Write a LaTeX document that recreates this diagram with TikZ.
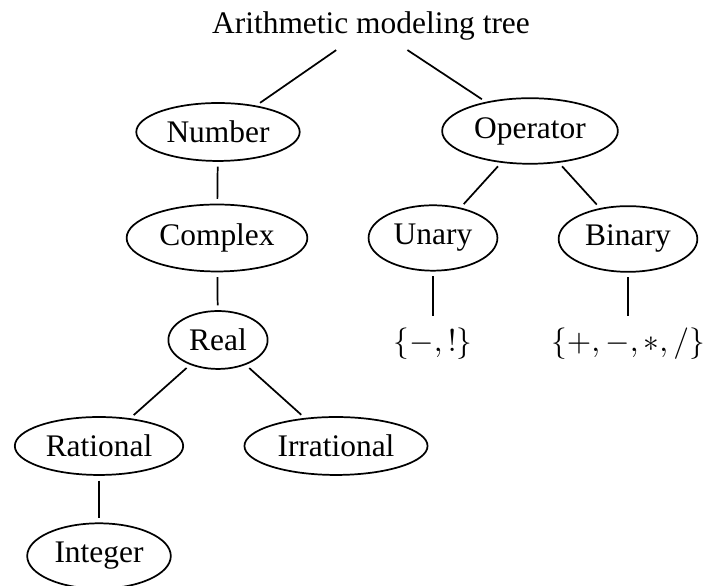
\documentclass[tikz,border=0pt]{standalone}
\usepackage{fontspec}
\setmainfont{Liberation Serif}
\usetikzlibrary{shapes.geometric}

\begin{document}
\begin{tikzpicture}[x=0.31818pt, y=-0.31818pt, line join=bevel, line width=0.55pt]
  % coordinates are pixels of the 704x586 frame, y grows downwards
  \tikzset{
    tree_node/.style={draw, ellipse, inner xsep=2pt, inner ysep=3pt},
    tree_label/.style={inner sep=2pt},
    tree_edge/.style={shorten <=1.5pt, shorten >=1.5pt},
  }
  \useasboundingbox (0,0) rectangle (704,586);

  \node[tree_label] (root)       at (371,26)  {Arithmetic modeling tree};
  \node[tree_node]  (number)     at (218,132) {Number};
  \node[tree_node]  (operator)   at (530,131) {Operator};
  \node[tree_node]  (complex)    at (217,238) {Complex};
  \node[tree_node]  (unary)      at (433,238) {Unary};
  \node[tree_node]  (binary)     at (628,239) {Binary};
  \node[tree_node]  (real)       at (218,340) {Real};
  \node[tree_label] (unary_set)  at (433,344) {$\{-,!\}$};
  \node[tree_label] (binary_set) at (628,344) {$\{+,-,*,/\}$};
  \node[tree_node]  (rational)   at (99,446)  {Rational};
  \node[tree_node]  (irrational) at (336,446) {Irrational};
  \node[tree_node]  (integer)    at (99,556)  {Integer};

  \foreach \parent/\child in {
    root/number, root/operator,
    number/complex, complex/real,
    real/rational, real/irrational, rational/integer,
    operator/unary, operator/binary,
    unary/unary_set, binary/binary_set}{
    \draw[tree_edge] (\parent) -- (\child);
  }
\end{tikzpicture}
\end{document}
